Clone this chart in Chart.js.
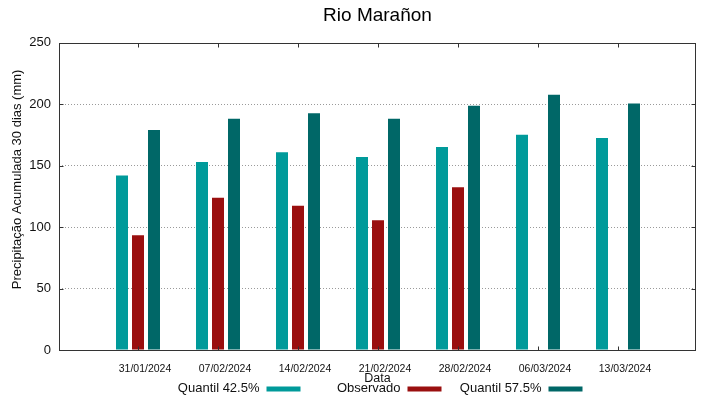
<!DOCTYPE html>
<html>
<head>
<meta charset="utf-8">
<script src="https://cdn.jsdelivr.net/npm/chart.js@4"></script>
<style>
    html, body { margin: 0; padding: 0; background: #fff; }
    #wrap { width: 719px; height: 399px; position: relative; }
</style>
</head>
<body>
<div id="wrap"><canvas id="rio-chart"></canvas></div>
<script>
const dateLabels = ['31/01/2024', '07/02/2024', '14/02/2024', '21/02/2024', '28/02/2024', '06/03/2024', '13/03/2024'];
const quantil425 = [142, 153, 161, 157, 165.3, 175.2, 172.6];
const observado = [93.4, 123.8, 117.3, 105.6, 132.5, null, null];
const quantil575 = [179.1, 188.1, 192.7, 188.1, 198.7, 207.7, 200.6];
const yTicks = [0, 50, 100, 150, 200, 250];

const FONT = '"Liberation Sans", Arial, sans-serif';
const TEXT_COLOR = '#111';

function toPoints(values) {
    return values.map((v, i) => ({ x: i, y: v }));
}

// frame with inward ticks on all four sides (gnuplot look)
const framePlugin = {
    id: 'frame',
    afterDraw(chart) {
        const { ctx, chartArea: a, scales } = chart;
        const tick = 4;
        const l = Math.round(a.left) + 0.5, r = Math.round(a.right) - 0.5;
        const t = Math.round(a.top) + 0.5, b = Math.round(a.bottom) + 0.5;
        ctx.save();
        ctx.strokeStyle = '#333';
        ctx.lineWidth = 1;
        ctx.strokeRect(l, t, r - l, b - t);
        ctx.beginPath();
        scales.y.ticks.forEach(tk => {
            const py = Math.round(scales.y.getPixelForValue(tk.value)) + 0.5;
            ctx.moveTo(l, py); ctx.lineTo(l + tick, py);
            ctx.moveTo(r, py); ctx.lineTo(r - tick, py);
        });
        scales.x.ticks.forEach(tk => {
            const px = Math.round(scales.x.getPixelForValue(tk.value)) + 0.5;
            ctx.moveTo(px, b); ctx.lineTo(px, b - tick);
            ctx.moveTo(px, t); ctx.lineTo(px, t + tick);
        });
        ctx.stroke();
        ctx.restore();
    }
};

// y title, x title and key drawn the way gnuplot lays them out
const textPlugin = {
    id: 'gnuText',
    afterDraw(chart) {
        const { ctx, chartArea: a } = chart;
        ctx.save();
        ctx.fillStyle = TEXT_COLOR;
        ctx.font = `13px ${FONT}`;
        ctx.textBaseline = 'middle';

        ctx.save();
        ctx.translate(17, (a.top + a.bottom) / 2 - 17);
        ctx.rotate(-Math.PI / 2);
        ctx.textAlign = 'center';
        ctx.fillText('Precipitação Acumulada 30 dias (mm)', 0, 0);
        ctx.restore();

        ctx.font = `12.5px ${FONT}`;
        ctx.textAlign = 'center';
        ctx.fillText('Data', (a.left + a.right) / 2, 379);

        ctx.font = `13px ${FONT}`;
        ctx.textAlign = 'right';
        chart.data.datasets.forEach((ds, i) => {
            const sx = 266.5 + i * 141;
            ctx.fillStyle = TEXT_COLOR;
            ctx.fillText(ds.label, sx - 7, 388);
            ctx.fillStyle = ds.backgroundColor;
            ctx.fillRect(sx, 386.5, 34, 5);
        });
        ctx.restore();
    }
};

const ctx = document.getElementById('rio-chart').getContext('2d');
new Chart(ctx, {
    type: 'bar',
    data: {
        datasets: [
            { label: 'Quantil 42.5%', data: toPoints(quantil425), backgroundColor: '#009a9a' },
            { label: 'Observado', data: toPoints(observado), backgroundColor: '#9a0f0f' },
            { label: 'Quantil 57.5%', data: toPoints(quantil575), backgroundColor: '#006767' }
        ]
    },
    options: {
        responsive: true,
        maintainAspectRatio: false,
        animation: false,
        categoryPercentage: 0.6,
        barPercentage: 0.75,
        layout: { padding: { left: 0, right: 23, top: 0, bottom: 0 } },
        plugins: {
            legend: { display: false },
            tooltip: { enabled: false },
            title: {
                display: true,
                text: 'Rio Marañon',
                fullSize: false,
                color: '#000',
                font: { family: FONT, size: 19, weight: 'normal' },
                padding: { top: 4, bottom: 16 }
            }
        },
        scales: {
            x: {
                type: 'linear',
                min: -0.9875,
                max: 6.975,
                offset: false,
                grid: { display: false },
                border: { display: false },
                afterFit: (scale) => { scale.height = 49; },
                ticks: {
                    stepSize: 1,
                    includeBounds: false,
                    autoSkip: false,
                    maxRotation: 0,
                    labelOffset: 7,
                    padding: 5,
                    color: TEXT_COLOR,
                    font: { family: FONT, size: 10.5 },
                    callback: (value) => dateLabels[value] ?? ''
                }
            },
            y: {
                min: 0,
                max: 250,
                afterFit: (scale) => { scale.width = 59; },
                afterBuildTicks: (scale) => { scale.ticks = yTicks.map(v => ({ value: v })); },
                border: { display: false, dash: [1, 2] },
                grid: {
                    color: (c) => (c.tick && (c.tick.value === 0 || c.tick.value === 250)) ? 'rgba(0,0,0,0)' : '#9a9a9a',
                    lineWidth: 1,
                    drawTicks: false
                },
                ticks: {
                    padding: 8,
                    color: TEXT_COLOR,
                    font: { family: FONT, size: 13 }
                }
            }
        }
    },
    plugins: [framePlugin, textPlugin]
});
</script>
</body>
</html>
